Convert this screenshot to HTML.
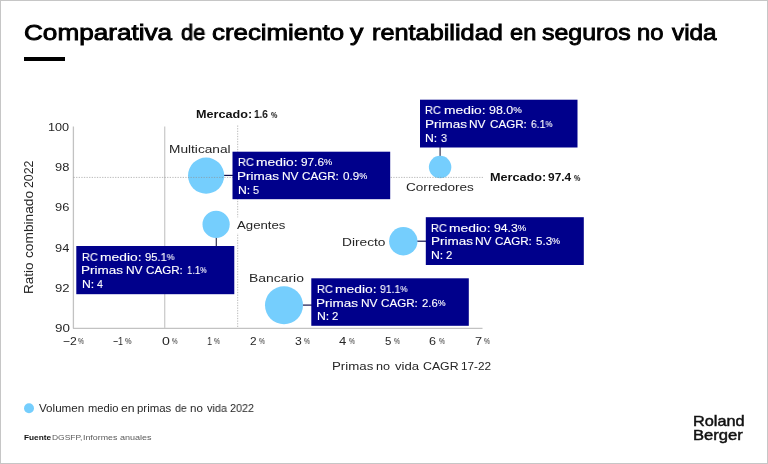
<!DOCTYPE html>
<html lang="es"><head><meta charset="utf-8"><title>Comparativa de crecimiento y rentabilidad en seguros no vida</title>
<style>
html,body{margin:0;padding:0;background:#fff;}
body{width:768px;height:464px;overflow:hidden;position:relative;font-family:"Liberation Sans",sans-serif;}
#page{position:absolute;left:0;top:0;width:768px;height:464px;background:#fff;overflow:hidden;}
#frame{position:absolute;left:0;top:0;width:766px;height:462px;border:1px solid #c6c6c6;pointer-events:none;}
.t{position:absolute;white-space:nowrap;line-height:1;transform-origin:0 0;margin:0;padding:0;will-change:transform;}
.p{font-size:78%;position:relative;top:-0.09em;}
svg{position:absolute;left:0;top:0;}
</style></head><body><div id="page">
<svg width="768" height="464" viewBox="0 0 768 464">
<line x1="73.4" y1="126.5" x2="73.4" y2="328.5" stroke="#c2c2c2" stroke-width="1.3"/>
<line x1="73" y1="328.4" x2="482.5" y2="328.4" stroke="#c2c2c2" stroke-width="1.3"/>
<line x1="164.7" y1="126.5" x2="164.7" y2="328" stroke="#cccccc" stroke-width="1.3"/>
<line x1="224" y1="175.4" x2="233" y2="175.4" stroke="#15154f" stroke-width="1.2"/>
<line x1="440.1" y1="147" x2="440.1" y2="157" stroke="#34344f" stroke-width="1.2"/>
<line x1="216.3" y1="237" x2="216.3" y2="246" stroke="#34344f" stroke-width="1.2"/>
<line x1="417" y1="241.2" x2="426" y2="241.2" stroke="#15154f" stroke-width="1.2"/>
<line x1="302.5" y1="305.1" x2="312" y2="305.1" stroke="#15154f" stroke-width="1.2"/>
<circle cx="206.10" cy="175.60" r="18.10" fill="#75cefd"/>
<circle cx="440.10" cy="167.10" r="11.25" fill="#75cefd"/>
<circle cx="216.10" cy="224.40" r="13.60" fill="#75cefd"/>
<circle cx="403.30" cy="241.20" r="14.20" fill="#75cefd"/>
<circle cx="284.00" cy="305.20" r="19.00" fill="#75cefd"/>
<circle cx="29.00" cy="408.20" r="5.00" fill="#75cefd"/>
<line x1="237.7" y1="125.5" x2="237.7" y2="328" stroke="#8c8c8c" stroke-width="1" stroke-dasharray="1.3 1.3" opacity="0.6"/>
<line x1="73.5" y1="177.4" x2="483" y2="177.4" stroke="#8c8c8c" stroke-width="1" stroke-dasharray="1.3 1.3" opacity="0.6"/>
<rect x="235.5" y="217.5" width="52" height="16" fill="#fff"/>
<rect x="232.5" y="151.7" width="157.7" height="47.5" fill="#00008b"/>
<rect x="420.0" y="99.7" width="157.5" height="47.8" fill="#00008b"/>
<rect x="76.3" y="246.0" width="158.0" height="48.2" fill="#00008b"/>
<rect x="425.8" y="217.2" width="158.0" height="47.8" fill="#00008b"/>
<rect x="311.3" y="278.3" width="157.5" height="47.5" fill="#00008b"/>
</svg>
<div style="position:absolute;left:24px;top:57px;width:40.5px;height:4px;background:#000"></div>
<div class="t" id="yt0" style="left:22.80px;top:293.80px;font-size:12.00px;color:#262626;transform:rotate(-90deg) scaleX(1.1227);">Ratio</div>
<div class="t" id="yt1" style="left:22.80px;top:258.30px;font-size:12.00px;color:#262626;transform:rotate(-90deg) scaleX(1.1429);">combinado</div>
<div class="t" id="yt2" style="left:22.80px;top:188.20px;font-size:12.00px;color:#262626;transform:rotate(-90deg) scaleX(1.0255);">2022</div>
<div class="t" id="tw0" style="left:23.75px;top:22.00px;font-size:22.60px;color:#000;-webkit-text-stroke:0.9px #000;transform:scaleX(1.1566);">Comparativa</div>
<div class="t" id="tw1" style="left:180.80px;top:22.00px;font-size:22.60px;color:#000;-webkit-text-stroke:0.9px #000;transform:scaleX(0.9709);">de</div>
<div class="t" id="tw2" style="left:211.50px;top:22.00px;font-size:22.60px;color:#000;-webkit-text-stroke:0.9px #000;transform:scaleX(1.1441);">crecimiento</div>
<div class="t" id="tw3" style="left:350.20px;top:22.00px;font-size:22.60px;color:#000;-webkit-text-stroke:0.9px #000;transform:scaleX(1.1837);">y</div>
<div class="t" id="tw4" style="left:371.55px;top:22.00px;font-size:22.60px;color:#000;-webkit-text-stroke:0.9px #000;transform:scaleX(1.1198);">rentabilidad</div>
<div class="t" id="tw5" style="left:509.50px;top:22.00px;font-size:22.60px;color:#000;-webkit-text-stroke:0.9px #000;transform:scaleX(1.0489);">en</div>
<div class="t" id="tw6" style="left:541.75px;top:22.00px;font-size:22.60px;color:#000;-webkit-text-stroke:0.9px #000;transform:scaleX(1.1034);">seguros</div>
<div class="t" id="tw7" style="left:636.50px;top:22.00px;font-size:22.60px;color:#000;-webkit-text-stroke:0.9px #000;transform:scaleX(1.0533);">no</div>
<div class="t" id="tw8" style="left:671.70px;top:22.00px;font-size:22.60px;color:#000;-webkit-text-stroke:0.9px #000;transform:scaleX(1.0765);">vida</div>
<div class="t" id="m16a" style="left:195.95px;top:109.00px;font-size:10.90px;font-weight:bold;color:#111;transform:scaleX(1.1583);">Mercado:</div>
<div class="t" id="m16b" style="left:253.95px;top:109.00px;font-size:10.90px;font-weight:bold;color:#111;transform:scaleX(0.9179);">1.6</div>
<div class="t" id="m16c" style="left:271.45px;top:111.00px;font-size:8.40px;font-weight:bold;color:#111;transform:scaleX(0.8358);">%</div>
<div class="t" id="m974a" style="left:490.05px;top:172.00px;font-size:10.90px;font-weight:bold;color:#111;transform:scaleX(1.1615);">Mercado:</div>
<div class="t" id="m974b" style="left:548.20px;top:172.00px;font-size:10.90px;font-weight:bold;color:#111;transform:scaleX(1.0940);">97.4</div>
<div class="t" id="m974c" style="left:573.85px;top:174.00px;font-size:8.40px;font-weight:bold;color:#111;transform:scaleX(0.8358);">%</div>
<div class="t" id="y100" style="left:48.30px;top:122.00px;font-size:11.30px;color:#262626;transform:scaleX(1.1212);">100</div>
<div class="t" id="y98" style="left:55.20px;top:162.00px;font-size:11.30px;color:#262626;transform:scaleX(1.1394);">98</div>
<div class="t" id="y96" style="left:55.20px;top:202.00px;font-size:11.30px;color:#262626;transform:scaleX(1.1394);">96</div>
<div class="t" id="y94" style="left:55.20px;top:243.00px;font-size:11.30px;color:#262626;transform:scaleX(1.1362);">94</div>
<div class="t" id="y92" style="left:55.20px;top:283.00px;font-size:11.30px;color:#262626;transform:scaleX(1.1609);">92</div>
<div class="t" id="y90" style="left:54.55px;top:323.00px;font-size:11.30px;color:#262626;transform:scaleX(1.1832);">90</div>
<div class="t" id="x0" style="left:62.50px;top:336.00px;font-size:11.30px;color:#262626;transform:scaleX(1.0766);">&minus;2</div>
<div class="t" id="xp0" style="left:78.15px;top:337.00px;font-size:8.60px;color:#262626;transform:scaleX(0.7857);">%</div>
<div class="t" id="x1" style="left:113.30px;top:336.00px;font-size:11.30px;color:#262626;transform:scaleX(0.7787);">&minus;1</div>
<div class="t" id="xp1" style="left:125.35px;top:337.00px;font-size:8.60px;color:#262626;transform:scaleX(0.8358);">%</div>
<div class="t" id="x2" style="left:161.70px;top:336.00px;font-size:11.30px;color:#262626;transform:scaleX(1.2508);">0</div>
<div class="t" id="xp2" style="left:172.35px;top:337.00px;font-size:8.60px;color:#262626;transform:scaleX(0.7358);">%</div>
<div class="t" id="x3" style="left:206.95px;top:336.00px;font-size:11.30px;color:#262626;transform:scaleX(0.8112);">1</div>
<div class="t" id="xp3" style="left:214.45px;top:337.00px;font-size:8.60px;color:#262626;transform:scaleX(0.7857);">%</div>
<div class="t" id="x4" style="left:249.60px;top:336.00px;font-size:11.30px;color:#262626;transform:scaleX(1.0476);">2</div>
<div class="t" id="xp4" style="left:258.75px;top:337.00px;font-size:8.60px;color:#262626;transform:scaleX(0.7857);">%</div>
<div class="t" id="x5" style="left:294.60px;top:336.00px;font-size:11.30px;color:#262626;transform:scaleX(1.0763);">3</div>
<div class="t" id="xp5" style="left:303.95px;top:337.00px;font-size:8.60px;color:#262626;transform:scaleX(0.7857);">%</div>
<div class="t" id="x6" style="left:339.35px;top:336.00px;font-size:11.30px;color:#262626;transform:scaleX(1.1566);">4</div>
<div class="t" id="xp6" style="left:348.85px;top:337.00px;font-size:8.60px;color:#262626;transform:scaleX(0.7857);">%</div>
<div class="t" id="x7" style="left:384.60px;top:336.00px;font-size:11.30px;color:#262626;transform:scaleX(1.0099);">5</div>
<div class="t" id="xp7" style="left:393.55px;top:337.00px;font-size:8.60px;color:#262626;transform:scaleX(0.7857);">%</div>
<div class="t" id="x8" style="left:429.35px;top:336.00px;font-size:11.30px;color:#262626;transform:scaleX(1.1144);">6</div>
<div class="t" id="xp8" style="left:438.85px;top:337.00px;font-size:8.60px;color:#262626;transform:scaleX(0.7857);">%</div>
<div class="t" id="x9" style="left:474.65px;top:336.00px;font-size:11.30px;color:#262626;transform:scaleX(1.1252);">7</div>
<div class="t" id="xp9" style="left:483.95px;top:337.00px;font-size:8.60px;color:#262626;transform:scaleX(0.7857);">%</div>
<div class="t" id="xt0" style="left:332.00px;top:361.00px;font-size:11.80px;color:#262626;transform:scaleX(1.1248);">Primas</div>
<div class="t" id="xt1" style="left:376.45px;top:361.00px;font-size:11.80px;color:#262626;transform:scaleX(1.0726);">no</div>
<div class="t" id="xt2" style="left:394.70px;top:361.00px;font-size:11.80px;color:#262626;transform:scaleX(1.1140);">vida</div>
<div class="t" id="xt3" style="left:422.55px;top:361.00px;font-size:11.80px;color:#262626;transform:scaleX(1.0425);">CAGR</div>
<div class="t" id="xt4" style="left:461.00px;top:361.00px;font-size:11.80px;color:#262626;transform:scaleX(0.9947);">17-22</div>
<div class="t" id="cMulti" style="left:169.30px;top:144.00px;font-size:11.30px;color:#262626;transform:scaleX(1.2112);">Multicanal</div>
<div class="t" id="cCorr" style="left:405.95px;top:182.00px;font-size:11.30px;color:#262626;transform:scaleX(1.2018);">Corredores</div>
<div class="t" id="cAg" style="left:237.20px;top:220.00px;font-size:11.30px;color:#262626;transform:scaleX(1.1695);">Agentes</div>
<div class="t" id="cDir" style="left:341.75px;top:237.00px;font-size:11.30px;color:#262626;transform:scaleX(1.2161);">Directo</div>
<div class="t" id="cBan" style="left:248.75px;top:273.00px;font-size:11.30px;color:#262626;transform:scaleX(1.2326);">Bancario</div>
<div class="t" id="bMulti_rc" style="left:237.70px;top:157.00px;font-size:11.30px;color:#fff;-webkit-text-stroke:0.12px #fff;transform:scaleX(0.9628);">RC</div>
<div class="t" id="bMulti_me" style="left:256.00px;top:157.00px;font-size:11.30px;color:#fff;-webkit-text-stroke:0.12px #fff;transform:scaleX(1.2234);">medio:</div>
<div class="t" id="bMulti_v1" style="left:300.95px;top:157.00px;font-size:11.30px;color:#fff;-webkit-text-stroke:0.12px #fff;transform:scaleX(1.0435);">97.6<span class="p">%</span></div>
<div class="t" id="bMulti_pr" style="left:237.45px;top:171.00px;font-size:11.30px;color:#fff;-webkit-text-stroke:0.12px #fff;transform:scaleX(1.1956);">Primas</div>
<div class="t" id="bMulti_nv" style="left:281.80px;top:171.00px;font-size:11.30px;color:#fff;-webkit-text-stroke:0.12px #fff;transform:scaleX(1.0552);">NV</div>
<div class="t" id="bMulti_ca" style="left:302.05px;top:171.00px;font-size:11.30px;color:#fff;-webkit-text-stroke:0.12px #fff;transform:scaleX(1.0294);">CAGR:</div>
<div class="t" id="bMulti_v2" style="left:343.20px;top:171.00px;font-size:11.30px;color:#fff;-webkit-text-stroke:0.12px #fff;transform:scaleX(1.0330);">0.9<span class="p">%</span></div>
<div class="t" id="bMulti_n" style="left:237.70px;top:185.00px;font-size:11.30px;color:#fff;-webkit-text-stroke:0.12px #fff;transform:scaleX(1.0811);">N:</div>
<div class="t" id="bMulti_v3" style="left:253.20px;top:185.00px;font-size:11.30px;color:#fff;-webkit-text-stroke:0.12px #fff;transform:scaleX(0.9524);">5</div>
<div class="t" id="bCorr_rc" style="left:425.30px;top:105.00px;font-size:11.30px;color:#fff;-webkit-text-stroke:0.12px #fff;transform:scaleX(0.9628);">RC</div>
<div class="t" id="bCorr_me" style="left:443.60px;top:105.00px;font-size:11.30px;color:#fff;-webkit-text-stroke:0.12px #fff;transform:scaleX(1.2234);">medio:</div>
<div class="t" id="bCorr_v1" style="left:488.55px;top:105.00px;font-size:11.30px;color:#fff;-webkit-text-stroke:0.12px #fff;transform:scaleX(1.1009);">98.0<span class="p">%</span></div>
<div class="t" id="bCorr_pr" style="left:425.05px;top:119.00px;font-size:11.30px;color:#fff;-webkit-text-stroke:0.12px #fff;transform:scaleX(1.1956);">Primas</div>
<div class="t" id="bCorr_nv" style="left:469.40px;top:119.00px;font-size:11.30px;color:#fff;-webkit-text-stroke:0.12px #fff;transform:scaleX(1.0552);">NV</div>
<div class="t" id="bCorr_ca" style="left:489.65px;top:119.00px;font-size:11.30px;color:#fff;-webkit-text-stroke:0.12px #fff;transform:scaleX(1.0294);">CAGR:</div>
<div class="t" id="bCorr_v2" style="left:530.80px;top:119.00px;font-size:11.30px;color:#fff;-webkit-text-stroke:0.12px #fff;transform:scaleX(0.9111);">6.1<span class="p">%</span></div>
<div class="t" id="bCorr_n" style="left:425.30px;top:133.00px;font-size:11.30px;color:#fff;-webkit-text-stroke:0.12px #fff;transform:scaleX(1.0811);">N:</div>
<div class="t" id="bCorr_v3" style="left:440.80px;top:133.00px;font-size:11.30px;color:#fff;-webkit-text-stroke:0.12px #fff;transform:scaleX(0.9524);">3</div>
<div class="t" id="bAg_rc" style="left:81.50px;top:252.00px;font-size:11.30px;color:#fff;-webkit-text-stroke:0.12px #fff;transform:scaleX(0.9628);">RC</div>
<div class="t" id="bAg_me" style="left:99.80px;top:252.00px;font-size:11.30px;color:#fff;-webkit-text-stroke:0.12px #fff;transform:scaleX(1.2234);">medio:</div>
<div class="t" id="bAg_v1" style="left:144.75px;top:252.00px;font-size:11.30px;color:#fff;-webkit-text-stroke:0.12px #fff;transform:scaleX(0.9879);">95.1<span class="p">%</span></div>
<div class="t" id="bAg_pr" style="left:81.25px;top:265.00px;font-size:11.30px;color:#fff;-webkit-text-stroke:0.12px #fff;transform:scaleX(1.1956);">Primas</div>
<div class="t" id="bAg_nv" style="left:125.60px;top:265.00px;font-size:11.30px;color:#fff;-webkit-text-stroke:0.12px #fff;transform:scaleX(1.0552);">NV</div>
<div class="t" id="bAg_ca" style="left:145.85px;top:265.00px;font-size:11.30px;color:#fff;-webkit-text-stroke:0.12px #fff;transform:scaleX(1.0294);">CAGR:</div>
<div class="t" id="bAg_v2" style="left:186.75px;top:265.00px;font-size:11.30px;color:#fff;-webkit-text-stroke:0.12px #fff;transform:scaleX(0.8338);">1.1<span class="p">%</span></div>
<div class="t" id="bAg_n" style="left:81.50px;top:279.00px;font-size:11.30px;color:#fff;-webkit-text-stroke:0.12px #fff;transform:scaleX(1.0811);">N:</div>
<div class="t" id="bAg_v3" style="left:97.25px;top:279.00px;font-size:11.30px;color:#fff;-webkit-text-stroke:0.12px #fff;transform:scaleX(0.9365);">4</div>
<div class="t" id="bDir_rc" style="left:431.00px;top:223.00px;font-size:11.30px;color:#fff;-webkit-text-stroke:0.12px #fff;transform:scaleX(0.9628);">RC</div>
<div class="t" id="bDir_me" style="left:449.30px;top:223.00px;font-size:11.30px;color:#fff;-webkit-text-stroke:0.12px #fff;transform:scaleX(1.2234);">medio:</div>
<div class="t" id="bDir_v1" style="left:494.25px;top:223.00px;font-size:11.30px;color:#fff;-webkit-text-stroke:0.12px #fff;transform:scaleX(1.0835);">94.3<span class="p">%</span></div>
<div class="t" id="bDir_pr" style="left:430.75px;top:236.00px;font-size:11.30px;color:#fff;-webkit-text-stroke:0.12px #fff;transform:scaleX(1.1956);">Primas</div>
<div class="t" id="bDir_nv" style="left:475.10px;top:236.00px;font-size:11.30px;color:#fff;-webkit-text-stroke:0.12px #fff;transform:scaleX(1.0552);">NV</div>
<div class="t" id="bDir_ca" style="left:495.35px;top:236.00px;font-size:11.30px;color:#fff;-webkit-text-stroke:0.12px #fff;transform:scaleX(1.0294);">CAGR:</div>
<div class="t" id="bDir_v2" style="left:536.25px;top:236.00px;font-size:11.30px;color:#fff;-webkit-text-stroke:0.12px #fff;transform:scaleX(1.0221);">5.3<span class="p">%</span></div>
<div class="t" id="bDir_n" style="left:431.00px;top:250.00px;font-size:11.30px;color:#fff;-webkit-text-stroke:0.12px #fff;transform:scaleX(1.0811);">N:</div>
<div class="t" id="bDir_v3" style="left:446.25px;top:250.00px;font-size:11.30px;color:#fff;-webkit-text-stroke:0.12px #fff;transform:scaleX(1.0025);">2</div>
<div class="t" id="bBan_rc" style="left:316.50px;top:284.00px;font-size:11.30px;color:#fff;-webkit-text-stroke:0.12px #fff;transform:scaleX(0.9628);">RC</div>
<div class="t" id="bBan_me" style="left:334.80px;top:284.00px;font-size:11.30px;color:#fff;-webkit-text-stroke:0.12px #fff;transform:scaleX(1.2234);">medio:</div>
<div class="t" id="bBan_v1" style="left:380.00px;top:284.00px;font-size:11.30px;color:#fff;-webkit-text-stroke:0.12px #fff;transform:scaleX(0.9217);">91.1<span class="p">%</span></div>
<div class="t" id="bBan_pr" style="left:316.25px;top:298.00px;font-size:11.30px;color:#fff;-webkit-text-stroke:0.12px #fff;transform:scaleX(1.1956);">Primas</div>
<div class="t" id="bBan_nv" style="left:360.60px;top:298.00px;font-size:11.30px;color:#fff;-webkit-text-stroke:0.12px #fff;transform:scaleX(1.0552);">NV</div>
<div class="t" id="bBan_ca" style="left:380.85px;top:298.00px;font-size:11.30px;color:#fff;-webkit-text-stroke:0.12px #fff;transform:scaleX(1.0294);">CAGR:</div>
<div class="t" id="bBan_v2" style="left:421.75px;top:298.00px;font-size:11.30px;color:#fff;-webkit-text-stroke:0.12px #fff;transform:scaleX(1.0000);">2.6<span class="p">%</span></div>
<div class="t" id="bBan_n" style="left:316.50px;top:311.00px;font-size:11.30px;color:#fff;-webkit-text-stroke:0.12px #fff;transform:scaleX(1.0811);">N:</div>
<div class="t" id="bBan_v3" style="left:331.75px;top:311.00px;font-size:11.30px;color:#fff;-webkit-text-stroke:0.12px #fff;transform:scaleX(1.0025);">2</div>
<div class="t" id="leg0" style="left:39.05px;top:403.00px;font-size:11.20px;color:#262626;transform:scaleX(1.0388);">Volumen</div>
<div class="t" id="leg1" style="left:87.75px;top:403.00px;font-size:11.20px;color:#262626;transform:scaleX(0.9966);">medio</div>
<div class="t" id="leg2" style="left:121.10px;top:403.00px;font-size:11.20px;color:#262626;transform:scaleX(1.0934);">en</div>
<div class="t" id="leg3" style="left:136.65px;top:403.00px;font-size:11.20px;color:#262626;transform:scaleX(1.0215);">primas</div>
<div class="t" id="leg4" style="left:174.50px;top:403.00px;font-size:11.20px;color:#262626;transform:scaleX(0.9435);">de</div>
<div class="t" id="leg5" style="left:189.55px;top:403.00px;font-size:11.20px;color:#262626;transform:scaleX(1.0356);">no</div>
<div class="t" id="leg6" style="left:206.70px;top:403.00px;font-size:11.20px;color:#262626;transform:scaleX(0.9756);">vida</div>
<div class="t" id="leg7" style="left:230.30px;top:403.00px;font-size:11.20px;color:#262626;transform:scaleX(0.9600);">2022</div>
<div class="t" id="src0" style="left:23.70px;top:434.00px;font-size:8.00px;font-weight:bold;color:#111;transform:scaleX(1.0333);">Fuente</div>
<div class="t" id="src1" style="left:52.05px;top:434.00px;font-size:8.00px;color:#5a5a5a;transform:scaleX(1.0569);">DGSFP,</div>
<div class="t" id="src2" style="left:83.45px;top:434.00px;font-size:8.00px;color:#5a5a5a;transform:scaleX(1.1034);">Informes</div>
<div class="t" id="src3" style="left:120.30px;top:434.00px;font-size:8.00px;color:#5a5a5a;transform:scaleX(1.1291);">anuales</div>
<div class="t" id="lg1" style="left:692.80px;top:414.00px;font-size:14.10px;color:#111;-webkit-text-stroke:0.45px #111;transform:scaleX(1.1570);">Roland</div>
<div class="t" id="lg2" style="left:692.80px;top:428.00px;font-size:14.10px;color:#111;-webkit-text-stroke:0.45px #111;transform:scaleX(1.1782);">Berger</div>
<div id="frame"></div>
</div></body></html>
